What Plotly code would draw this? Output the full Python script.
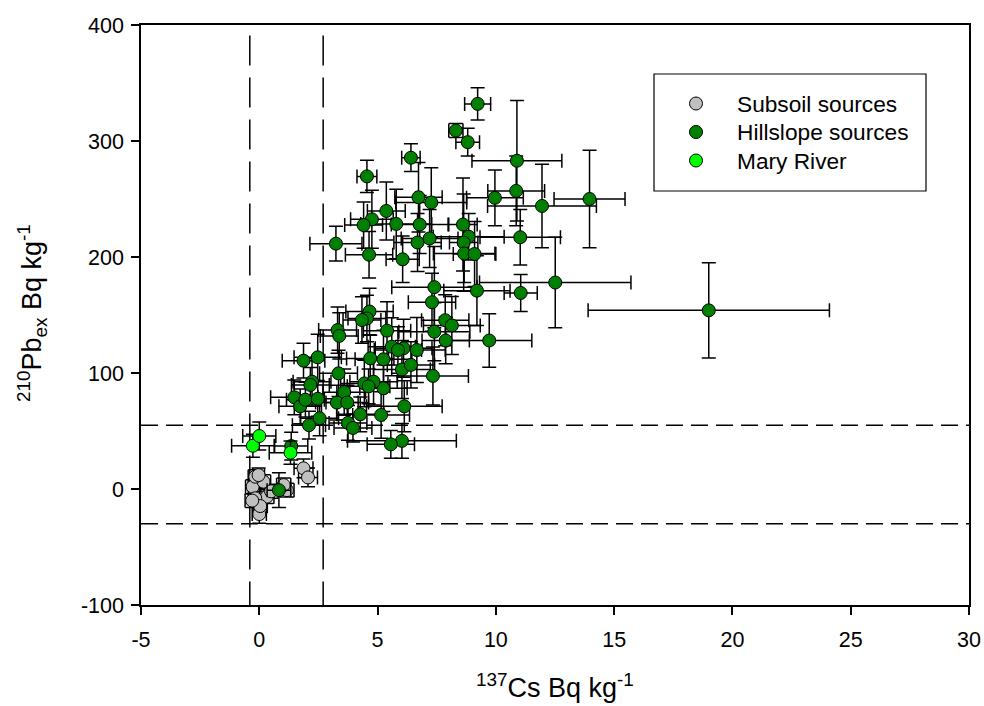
import plotly.graph_objects as go

# ---- data ----
sub_x    = [-0.28, 0.18, -0.17, -0.03, 0.32, -0.17, 0.0, 0.04, 1.17, 1.03, 1.87, 2.06, 0.5, -0.3]
sub_y    = [2, 6.3, 10.6, 12, -6.6, -8, -21.6, -14.7, -1, 3.4, 17.8, 10, -2, -10]
sub_xerr = [0.3, 0.3, 0.3, 0.25, 0.3, 0.3, 0.3, 0.3, 0.3, 0.3, 0.4, 0.4, 0.3, 0.3]
sub_yerr = [6, 6, 6, 6, 6, 6, 8, 6, 6, 6, 8, 8, 6, 6]

hill_x = [19.0, 13.96, 12.51, 11.95, 10.89, 10.86, 11.03, 11.05, 9.96, 9.72,
          9.23, 8.31, 8.81, 8.61, 8.85, 8.64, 8.66, 9.1, 9.2, 7.4,
          7.3, 7.86, 8.14, 7.4, 7.88, 7.34, 6.13, 6.03, 5.56, 5.15,
          6.1, 6.66, 5.6, 5.86, 6.03, 6.41, 5.4, 5.25, 5.25, 4.69,
          4.66, 4.55, 4.34, 3.31, 3.38, 1.87, 2.47, 3.35, 2.23, 2.16,
          4.44, 4.83, 4.62, 3.59, 1.48, 1.73, 1.95, 2.47, 3.28, 3.72,
          2.55, 2.1, 4.27, 3.75, 3.96, 1.35, 0.83, 4.55, 6.41, 6.73,
          7.27, 5.37, 4.76, 4.41, 5.79, 6.78, 6.69, 7.2, 3.24, 4.64, 6.06]
hill_y = [154, 250, 178, 244, 283, 257, 217, 169, 251, 128,
          332, 309, 299, 228, 217.5, 212.4, 203, 202.6, 171, 174,
          161, 145.5, 141, 135.6, 128, 97.5, 71.3, 41.5, 38.5, 63.8,
          121.4, 119.8, 122.7, 119.8, 103, 107, 136.5, 111.8, 86.8, 112.6,
          153, 147, 145.7, 137, 132, 110.6, 113.5, 99.7, 92.5, 89.7,
          91, 92.5, 88.5, 83.5, 79, 71.3, 77, 77.8, 74.5, 74.5,
          61, 55, 64.4, 57, 52.6, 37, -1, 269.5, 285.6, 251.5,
          247, 239.7, 232.5, 227.5, 228.5, 228, 212.5, 216, 211.5, 202, 198]
hill_xerr = [5.1, 1.5, 3.2, 2.3, 1.9, 1.2, 1.7, 0.7, 1.2, 1.8,
             0.55, 0.3, 0.5, 0.6, 1.5, 0.6, 1.3, 0.9, 1.4, 1.8,
             1.0, 1.0, 1.2, 1.5, 1.0, 1.5, 1.6, 2.3, 1.0, 1.2,
             1.2, 1.2, 1.0, 1.0, 1.2, 1.0, 1.0, 1.2, 1.0, 1.0,
             1.0, 0.8, 0.8, 0.8, 0.8, 0.9, 1.0, 0.8, 0.8, 0.8,
             1.0, 1.0, 0.9, 0.9, 1.0, 0.9, 0.8, 0.8, 0.9, 0.9,
             0.8, 0.7, 1.0, 0.8, 0.8, 0.7, 0.5, 0.42, 0.39, 1.0,
             1.5, 0.8, 0.9, 0.8, 1.5, 1.2, 1.0, 1.2, 1.1, 1.0, 0.7]
hill_yerr = [41, 42, 39, 36, 52, 30, 24, 16, 24, 23,
             14, 6, 12, 40, 20, 42, 25, 28, 30, 35,
             25, 22, 25, 25, 20, 25, 22, 15, 12, 20,
             25, 28, 25, 20, 25, 20, 25, 25, 20, 20,
             20, 20, 20, 20, 20, 15, 20, 20, 20, 15,
             20, 20, 15, 20, 15, 15, 15, 15, 15, 15,
             15, 12, 15, 15, 12, 12, 15, 14, 12, 30,
             30, 25, 25, 20, 30, 25, 25, 25, 15, 20, 20]

river_x    = [-0.27, 0.0, 1.32]
river_y    = [37.3, 45.7, 31.3]
river_xerr = [0.9, 0.7, 0.9]
river_yerr = [10, 12, 10]

ref_x = [-0.4, 2.7]     # vertical dashed lines
ref_y = [55, -30]       # horizontal dashed lines

x_tickvals = [-5, 0, 5, 10, 15, 20, 25, 30]
x_ticktext = ["-5", "0", "5", "10", "15", "20", "25", "30"]
y_tickvals = [-100, 0, 100, 200, 300, 400]
y_ticktext = ["-100", "0", "100", "200", "300", "400"]

series_names  = ["Subsoil sources", "Hillslope sources", "Mary River"]
series_colors = ["#C0C0C0", "#008000", "#00FF00"]

FONT = "Arial, Liberation Sans, sans-serif"

# plot-area geometry in pixels (for converting legend placement to paper coords)
L, R, T, B = 141, 969, 25, 605
W, H = R - L, B - T
def px(xp): return (xp - L) / W
def py(yp): return (B - yp) / H

def trace(name, x, y, xe, ye, color):
    return go.Scatter(
        x=x, y=y, mode="markers", name=name, showlegend=False,
        marker=dict(size=13, color=color, line=dict(color="black", width=1)),
        error_x=dict(type="data", array=xe, color="black", thickness=1.5, width=7),
        error_y=dict(type="data", array=ye, color="black", thickness=1.5, width=7),
    )

fig = go.Figure()
fig.add_trace(trace(series_names[0], sub_x, sub_y, sub_xerr, sub_yerr, series_colors[0]))
fig.add_trace(trace(series_names[1], hill_x, hill_y, hill_xerr, hill_yerr, series_colors[1]))
fig.add_trace(trace(series_names[2], river_x, river_y, river_xerr, river_yerr, series_colors[2]))

for xv in ref_x:
    fig.add_shape(type="line", xref="x", yref="y", x0=xv, x1=xv, y0=391, y1=-100,
                  line=dict(color="black", width=1.5, dash="30px,12px"), layer="below")
for yv in ref_y:
    fig.add_shape(type="line", xref="x", yref="y", x0=-5, x1=30, y0=yv, y1=yv,
                  line=dict(color="black", width=1.5, dash="17px,8px"), layer="below")

# legend (box, symbols, labels)
fig.add_shape(type="rect", xref="paper", yref="paper",
              x0=px(654), x1=px(926), y0=py(191), y1=py(74),
              line=dict(color="black", width=1.2), fillcolor="white", layer="above")
annotations = []
for i, (name, col) in enumerate(zip(series_names, series_colors)):
    yc = 103.5 + i * 28.5
    fig.add_shape(type="circle", xref="paper", yref="paper",
                  xsizemode="pixel", ysizemode="pixel",
                  xanchor=px(696), yanchor=py(yc), x0=-6.5, x1=6.5, y0=-6.5, y1=6.5,
                  fillcolor=col, line=dict(color="black", width=1), layer="above")
    annotations.append(dict(text=name, xref="paper", yref="paper", x=px(735), y=py(yc),
                            xanchor="left", yanchor="middle", showarrow=False,
                            font=dict(size=22.7, family=FONT, color="black")))

annotations += [
    dict(text="<sup>137</sup>Cs Bq kg<sup>-1</sup>", xref="paper", yref="paper",
         x=0.5, y=py(686), xanchor="center", yanchor="middle",
         showarrow=False, font=dict(size=27)),
    dict(text="<sup>210</sup>Pb<sub>ex</sub> Bq kg<sup>-1</sup>", xref="paper", yref="paper",
         x=px(32), y=py(313), xanchor="center", yanchor="middle", textangle=-90,
         showarrow=False, font=dict(size=27)),
]

fig.update_layout(
    width=984, height=706,
    margin=dict(l=L, r=984 - R, t=T, b=706 - B, autoexpand=False),
    paper_bgcolor="white", plot_bgcolor="white",
    font=dict(family=FONT, size=21.5, color="black"),
    showlegend=False,
    xaxis=dict(range=[-5, 30], tickvals=x_tickvals, ticktext=x_ticktext, automargin=False,
               showgrid=False, zeroline=False, showline=True, linecolor="black",
               linewidth=1.5, mirror=True, ticks="outside", ticklen=8, tickwidth=1.5,
               tickcolor="black", tickfont=dict(size=21.5), ticklabelstandoff=6),
    yaxis=dict(range=[-100, 400], tickvals=y_tickvals, ticktext=y_ticktext, automargin=False,
               showgrid=False, zeroline=False, showline=True, linecolor="black",
               linewidth=1.5, mirror=True, ticks="outside", ticklen=8, tickwidth=1.5,
               tickcolor="black", tickfont=dict(size=21.5), ticklabelstandoff=3),
    annotations=annotations,
)

fig.write_html("out.html")
